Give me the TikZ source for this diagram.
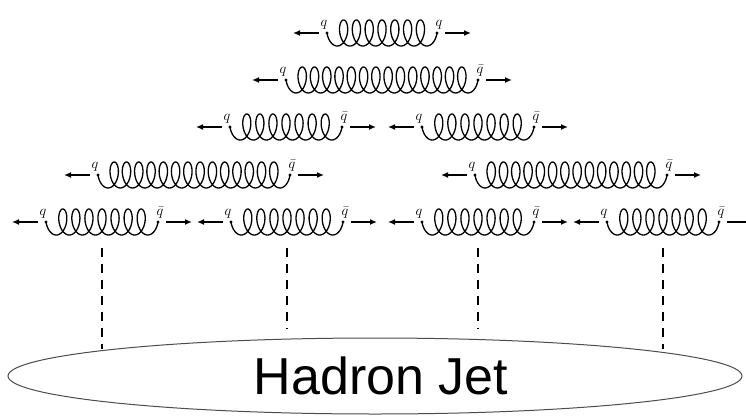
\documentclass[tikz,border=0pt]{standalone}
\usepackage{fontspec}
\newfontfamily\jetfont{Liberation Sans}
\usepackage{tikz}
\usetikzlibrary{calc,arrows.meta,positioning,shapes.geometric}
\tikzset{
  qdot/.style={circle,fill,inner sep=0pt,minimum size=3.2pt},
  qlab/.style={inner sep=0pt,font=\fontsize{15}{15}\selectfont},
  ar/.style={-{Latex[length=7pt,width=6pt]},line width=1.4pt,shorten <=6pt},
  gluon/.style={line width=1.3pt,to path={let \p1=(\tikztostart),\p2=(\tikztotarget),\n1={(\x2-\x1-14)/((2*#1+1)*pi)} in
    plot[variable=\t,domain=-pi/2:2*#1*pi+pi/2,samples=420] ({\x1+\n1*(\t+pi/2)+7*(sin(\t r)+1)},{\y1-13*cos(\t r)}) \tikztonodes}},
  jetline/.style={line width=1.3pt,dash pattern=on 9pt off 7pt,shorten <=26pt},
  jetshape/.style={ellipse,draw=black!70,line width=1pt,minimum width=734pt,minimum height=76pt}
}
% gluon between q and qbar: [right label] name, centre x, y, half width, loops
\newcommand{\glu}[6][\bar q]{%
  \node[qdot] (#2-q) at (#3-#5,#4) {};
  \node[qdot] (#2-qb) at (#3+#5,#4) {};
  \coordinate (#2-c) at (#3,#4);
  \coordinate (#2-l) at (#3-#5-34,#4);
  \coordinate (#2-r) at (#3+#5+34,#4);
  \node[qlab,above=2pt of #2-q,xshift=-3pt] (#2-tq) {$q$};
  \node[qlab,above=2pt of #2-qb,xshift=2pt] (#2-tqb) {$#1$};
  \draw[gluon=#6] (#2-q) to (#2-qb);
  \draw[ar] (#2-q) -- (#2-l);
  \draw[ar] (#2-qb) -- (#2-r);}

\begin{document}
\begin{tikzpicture}[x=1pt,y=1pt]
\useasboundingbox (0,0) rectangle (746,416);
\glu[q]{g1}{382}{383}{55}{7}
\foreach \g/\cx/\cy/\hw/\k in {g2/382/336/96/14,g3a/286/289/56/7,g3b/478/289/56/7,g4a/194/241/96/14,g4b/571/241/96/14,
  g5a/102/194/56/7,g5b/287/194/56/7,g5c/478/194/56/7,g5d/663/194/56/7}{\glu{\g}{\cx}{\cy}{\hw}{\k}}
% the jet and the lines into it
\node[jetshape] (jet) at (375,40) {};
\node[font=\jetfont\fontsize{52}{52}\selectfont] (jettext) at (381,40) {Hadron Jet};
\foreach \g/\a in {g5a/174,g5d/6}{\draw[jetline] (\g-c) -- (\g-c |- jet.\a);}
\foreach \g in {g5b,g5c}{\draw[jetline,shorten >=9pt] (\g-c) -- (\g-c |- jet.north);}
\end{tikzpicture}
\end{document}
